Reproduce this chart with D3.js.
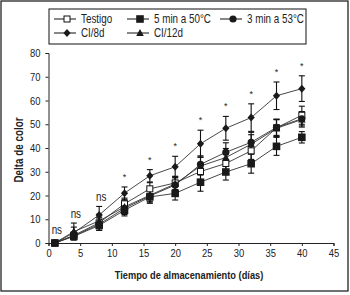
<!DOCTYPE html>
<html>
<head>
<meta charset="utf-8">
<script src="https://cdn.jsdelivr.net/npm/d3@7"></script>
<style>
  body { margin: 0; background: #fff; }
  svg text { font-family: "Liberation Sans Narrow", "Arial Narrow", "Liberation Sans", sans-serif; fill: #222; }
</style>
</head>
<body>
<div id="chart"></div>
<script>
// storage days
var days = [1, 4, 8, 12, 16, 20, 24, 28, 32, 36, 40];

// mean colour difference per treatment
var testigo  = [0, 3.2, 8.5, 16.5, 22.8, 25.3, 30.1, 33.5, 38.8, 48.5, 53.8];
var min5at50 = [0, 2.8, 7.4, 13.8, 19.4, 20.9, 25.6, 29.9, 33.4, 40.7, 44.5];
var min3at53 = [0, 3.0, 7.9, 14.6, 19.8, 24.4, 33.1, 38.2, 42.4, 48.7, 52.3];
var ci8d     = [0, 4.3, 11.8, 21.0, 28.3, 32.1, 41.8, 48.3, 52.8, 62.0, 65.0];
var ci12d    = [0, 4.8, 9.3, 15.2, 20.1, 24.9, 32.4, 36.0, 41.6, 48.3, 52.0];

// standard deviations
var sdTestigo  = [0.4, 1.5, 2.4, 2.4, 2.6, 2.8, 3.4, 3.8, 3.6, 3.6, 3.8];
var sdMin5     = [0.4, 1.2, 2.0, 2.4, 2.7, 2.8, 3.8, 3.4, 4.0, 3.8, 2.4];
var sdMin3     = [0.4, 1.4, 2.6, 2.6, 2.5, 3.0, 3.6, 4.0, 4.2, 3.4, 3.0];
var sdCi8d     = [0.4, 2.4, 3.6, 2.6, 2.6, 4.4, 5.7, 5.0, 5.8, 5.8, 5.4];
var sdCi12d    = [0.4, 3.6, 2.8, 2.8, 2.8, 3.0, 3.8, 3.8, 4.0, 3.6, 3.2];

var sigLabels = ["ns", "ns", "ns", "*", "*", "*", "*", "*", "*", "*", "*"];

var seriesNames = ["Testigo", "5 min a 50°C", "3 min a 53°C", "CI/8d", "CI/12d"];
var seriesMarks = ["openSquare", "square", "circle", "diamond", "triangle"];

var xTicks = [0, 5, 10, 15, 20, 25, 30, 35, 40, 45];
var yTicks = [0, 10, 20, 30, 40, 50, 60, 70, 80];

var series = [
  { name: seriesNames[0], mark: seriesMarks[0], mean: testigo,  sd: sdTestigo },
  { name: seriesNames[1], mark: seriesMarks[1], mean: min5at50, sd: sdMin5 },
  { name: seriesNames[2], mark: seriesMarks[2], mean: min3at53, sd: sdMin3 },
  { name: seriesNames[3], mark: seriesMarks[3], mean: ci8d,     sd: sdCi8d },
  { name: seriesNames[4], mark: seriesMarks[4], mean: ci12d,    sd: sdCi12d }
];

var narrow = 0.82; // no Arial Narrow here, squeeze the glyphs instead

var width = 350, height = 295;
var svg = d3.select("#chart").append("svg")
  .attr("width", width)
  .attr("height", height);

// outer frame
svg.append("rect")
  .attr("x", 1).attr("y", 1)
  .attr("width", 347).attr("height", 290)
  .attr("fill", "none").attr("stroke", "#111").attr("stroke-width", 1.2);

var x = d3.scaleLinear().domain([0, 45]).range([48.5, 333.5]);
var y = d3.scaleLinear().domain([0, 80]).range([243, 53]);

var xAxis = svg.append("g")
  .attr("transform", "translate(0," + y(0) + ")")
  .call(d3.axisBottom(x).tickValues(xTicks).tickSize(3).tickPadding(3));
var yAxis = svg.append("g")
  .attr("transform", "translate(" + x(0) + ",0)")
  .call(d3.axisLeft(y).tickValues(yTicks).tickSize(3).tickPadding(4));

[xAxis, yAxis].forEach(function(a) {
  a.select(".domain").attr("stroke", "#222").attr("stroke-width", 1);
  a.selectAll(".tick line").attr("stroke", "#222");
  a.selectAll("text").style("font-size", "11.5px").attr("fill", "#333")
    .attr("transform", "scale(" + narrow + ",1)");
});
yAxis.selectAll("text").attr("x", -8 / narrow);

svg.append("text")
  .attr("transform", "translate(23,150) rotate(-90) scale(" + narrow + ",1)")
  .attr("text-anchor", "middle")
  .style("font-size", "12px").style("font-weight", "bold")
  .text("Delta de color");

svg.append("text")
  .attr("transform", "translate(189,279) scale(" + narrow + ",1)")
  .attr("text-anchor", "middle")
  .style("font-size", "11.3px").style("font-weight", "bold")
  .text("Tiempo de almacenamiento (días)");

function drawMark(g, mark) {
  if (mark == "openSquare") {
    g.append("rect").attr("x", -3).attr("y", -3).attr("width", 6).attr("height", 6)
      .attr("fill", "#fff").attr("stroke", "#111").attr("stroke-width", 1);
  } else if (mark == "square") {
    g.append("rect").attr("x", -3.8).attr("y", -3.8).attr("width", 7.6).attr("height", 7.6)
      .attr("fill", "#1a1a1a");
  } else if (mark == "circle") {
    g.append("circle").attr("r", 3.6).attr("fill", "#1a1a1a");
  } else if (mark == "diamond") {
    g.append("path").attr("d", "M0,-4L3.6,0L0,4L-3.6,0Z").attr("fill", "#1a1a1a");
  } else {
    g.append("path").attr("d", "M0,-4L3.8,3L-3.8,3Z").attr("fill", "#1a1a1a");
  }
}

var line = d3.line()
  .x(function(d, i) { return x(days[i]); })
  .y(function(d) { return y(d); });

series.forEach(function(s) {
  svg.append("path")
    .datum(s.mean)
    .attr("d", line)
    .attr("fill", "none")
    .attr("stroke", "#333")
    .attr("stroke-width", 0.9);
});

series.forEach(function(s) {
  var eb = svg.append("g");
  s.mean.forEach(function(m, i) {
    if (s.sd[i] < 1) return;
    var cx = x(days[i]);
    eb.append("line").attr("x1", cx).attr("x2", cx)
      .attr("y1", y(m - s.sd[i])).attr("y2", y(m + s.sd[i]));
    [m - s.sd[i], m + s.sd[i]].forEach(function(v) {
      eb.append("line").attr("x1", cx - 3).attr("x2", cx + 3)
        .attr("y1", y(v)).attr("y2", y(v));
    });
  });
  eb.selectAll("line").attr("stroke", "#111").attr("stroke-width", 1.1);
});

series.forEach(function(s) {
  s.mean.forEach(function(m, i) {
    var g = svg.append("g").attr("transform", "translate(" + x(days[i]) + "," + y(m) + ")");
    drawMark(g, s.mark);
  });
});

// significance labels above the highest error bar
sigLabels.forEach(function(lab, i) {
  var top = d3.max(series, function(s) { return s.mean[i] + s.sd[i]; });
  if (lab == "ns") {
    var gap = i == 0 ? 8 : 5;
    svg.append("text")
      .attr("transform", "translate(" + (x(days[i]) + 2) + "," + (y(top) - gap) + ") scale(" + narrow + ",1)")
      .attr("text-anchor", "middle")
      .style("font-size", "12px").attr("fill", "#444")
      .text(lab);
  } else {
    svg.append("text")
      .attr("x", x(days[i])).attr("y", y(top) - 7)
      .attr("text-anchor", "middle")
      .style("font-size", "9px").attr("fill", "#555")
      .text(lab);
  }
});

// legend
var legend = svg.append("g");
legend.append("rect")
  .attr("x", 49).attr("y", 9).attr("width", 257).attr("height", 35)
  .attr("fill", "#fff").attr("stroke", "#111").attr("stroke-width", 1);

var legendPos = [[54, 19], [127, 19], [220, 19], [54, 33], [127, 33]];
series.forEach(function(s, i) {
  var g = legend.append("g").attr("transform", "translate(" + legendPos[i][0] + "," + legendPos[i][1] + ")");
  g.append("line").attr("x1", 0).attr("x2", 22).attr("y1", 0).attr("y2", 0)
    .attr("stroke", "#111").attr("stroke-width", 1);
  drawMark(g.append("g").attr("transform", "translate(13,0)"), s.mark);
  g.append("text")
    .attr("transform", "translate(27,4) scale(" + narrow + ",1)")
    .style("font-size", "12px")
    .text(s.name);
});
</script>
</body>
</html>
